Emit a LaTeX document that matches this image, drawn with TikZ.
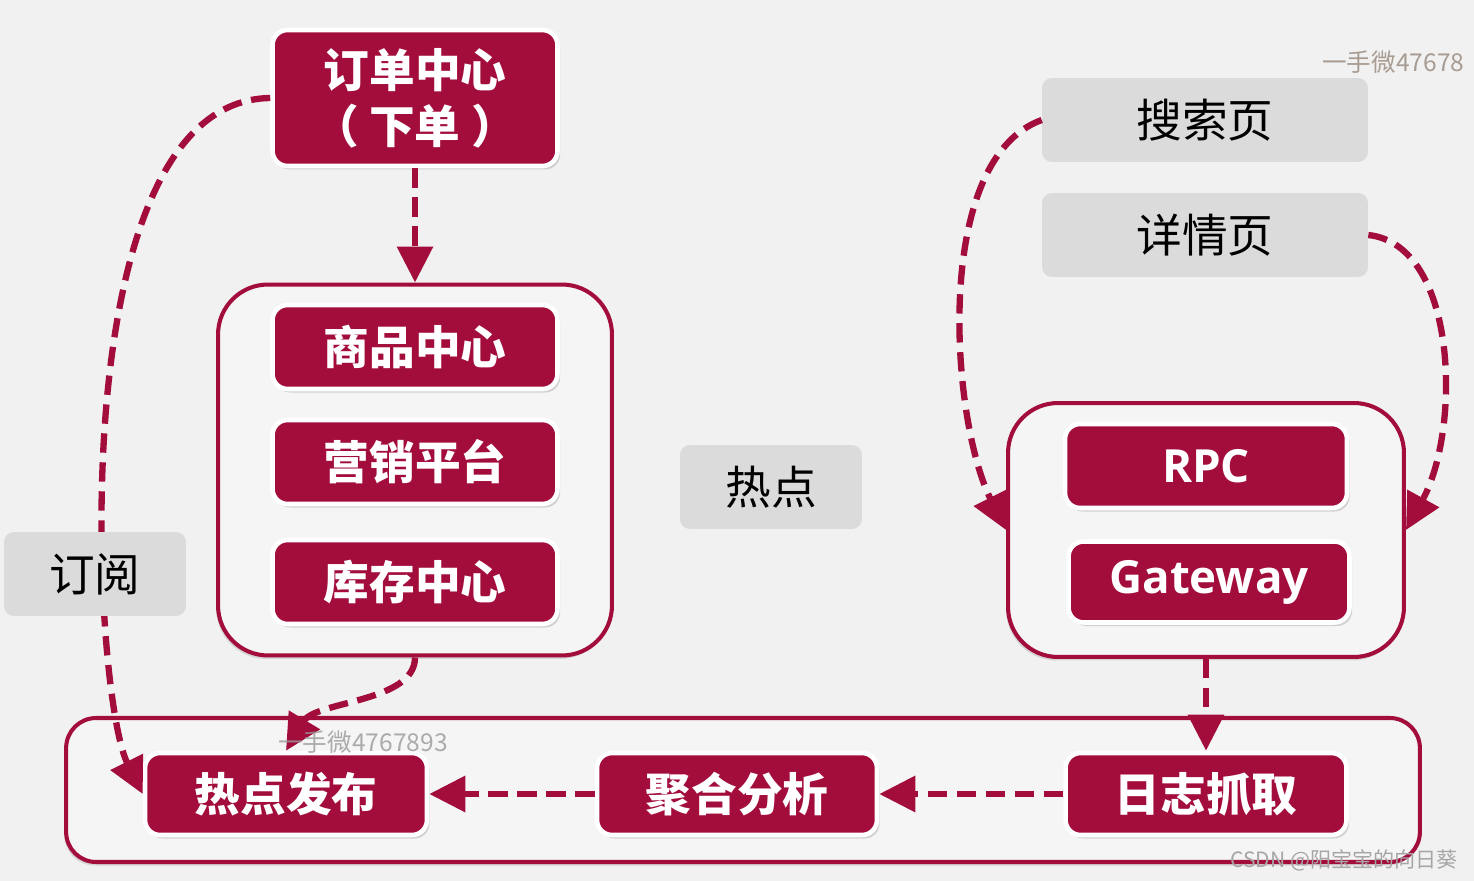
\documentclass[tikz,border=0pt]{standalone}
\usepackage{fontspec}
\newfontfamily\cjk{Noto Sans CJK SC}
\newfontfamily\latin{Open Sans}
\usetikzlibrary{arrows.meta,shadows}
\definecolor{hotred}{HTML}{A30D3C}
\definecolor{paper}{HTML}{F2F1F1}
\definecolor{chip}{HTML}{DCDBDB}
\tikzset{
  redbox/.style={rounded corners=0.3cm, fill=hotred, draw=white, line width=2.6pt,
    text=white, font=\cjk\bfseries\fontsize{26}{32}\selectfont, align=center,
    minimum width=5.7cm, minimum height=1.68cm, inner sep=0pt,
    drop shadow={shadow xshift=1.5pt, shadow yshift=-2pt, opacity=0.3}},
  greybox/.style={rounded corners=0.2cm, fill=chip, font=\cjk\fontsize{26}{32}\selectfont,
    minimum height=1.68cm, inner sep=0pt},
  frame/.style={rounded corners=1cm, draw=hotred, line width=2.3pt, fill=white!96!black,
    drop shadow={shadow xshift=-1pt, shadow yshift=-2pt, opacity=0.25}},
  flow/.style={draw=hotred, line width=3.6pt, dash pattern=on 11pt off 5.5pt,
    -{Triangle[length=0.72cm, width=0.7cm]}},
  wmark/.style={font=\cjk\fontsize{14}{16}\selectfont, inner sep=0pt}
}
\begin{document}
\begin{tikzpicture}[x=0.02cm, y=-0.02cm]
        \useasboundingbox[fill=paper] (0,0) rectangle (1474,881);
        \clip (0,0) rectangle (1474,881);

        % frames
        \node[frame, minimum width=7.88cm, minimum height=7.42cm] (left) at (415,470) {};
        \node[frame, minimum width=7.92cm, minimum height=5.08cm] (right) at (1206,530) {};
        \node[frame, rounded corners=0.6cm, minimum width=27.08cm, minimum height=2.88cm] (bottom) at (743,790) {};

        % red boxes
        \node[redbox, minimum height=2.72cm] (order) at (415,98) {订单中心\\（ 下单 ）};
        \node[redbox] (goods) at (415,347) {商品中心};
        \node[redbox] (market) at (415,462) {营销平台};
        \node[redbox] (stock) at (415,582) {库存中心};
        \node[redbox, minimum width=5.64cm, font=\latin\bfseries\fontsize{26}{32}\selectfont] (rpc) at (1206,466) {RPC};
        \node[redbox, minimum width=5.62cm, minimum height=1.62cm, font=\latin\bfseries\fontsize{26}{32}\selectfont] (gw) at (1209,582) {Gateway};
        \node[redbox, minimum width=5.64cm, minimum height=1.64cm] (pub) at (286,794) {热点发布};
        \node[redbox, minimum width=5.6cm, minimum height=1.64cm] (agg) at (737,794) {聚合分析};
        \node[redbox, minimum width=5.62cm, minimum height=1.64cm] (log) at (1206,794) {日志抓取};

        % grey labels
        \node[greybox, minimum width=3.64cm] (hot) at (771,487) {热点};
        \node[greybox, minimum width=6.52cm] (search) at (1205,120) {搜索页};
        \node[greybox, minimum width=6.52cm] (detail) at (1205,235) {详情页};

        \draw[flow] (order.south) -- (left.north);
        \draw[flow] (order.west) .. controls +(-212,3) and +(-50,-100) .. (pub.west);
        \draw[flow] (left.south) .. controls +(0,45) and +(30,-50) .. (pub.north);
        \draw[flow] (search.west) .. controls +(-110,40) and +(-55,-110) .. (right.west);
        \draw[flow] (detail.east) .. controls +(90,10) and +(55,-100) .. (right.east);
        \draw[flow] (right.south) -- (log.north);
        \draw[flow] (log.west) -- (agg.east);
        \draw[flow] (agg.west) -- (pub.east);

        \node[greybox, minimum width=3.64cm] (sub) at (95,574) {订阅};

        % watermarks
        \node[wmark, anchor=west, text={rgb,255:red,168;green,156;blue,146}] (wm1) at (1322,62) {一手微47678};
        \node[wmark, anchor=west, text=black!40, opacity=0.8] (wm2) at (278,742) {一手微4767893};
        \node[wmark, anchor=east, font=\cjk\fontsize{12}{14}\selectfont, text=black!35] (csdn) at (1458,860) {CSDN @阳宝宝的向日葵};
\end{tikzpicture}
\end{document}
